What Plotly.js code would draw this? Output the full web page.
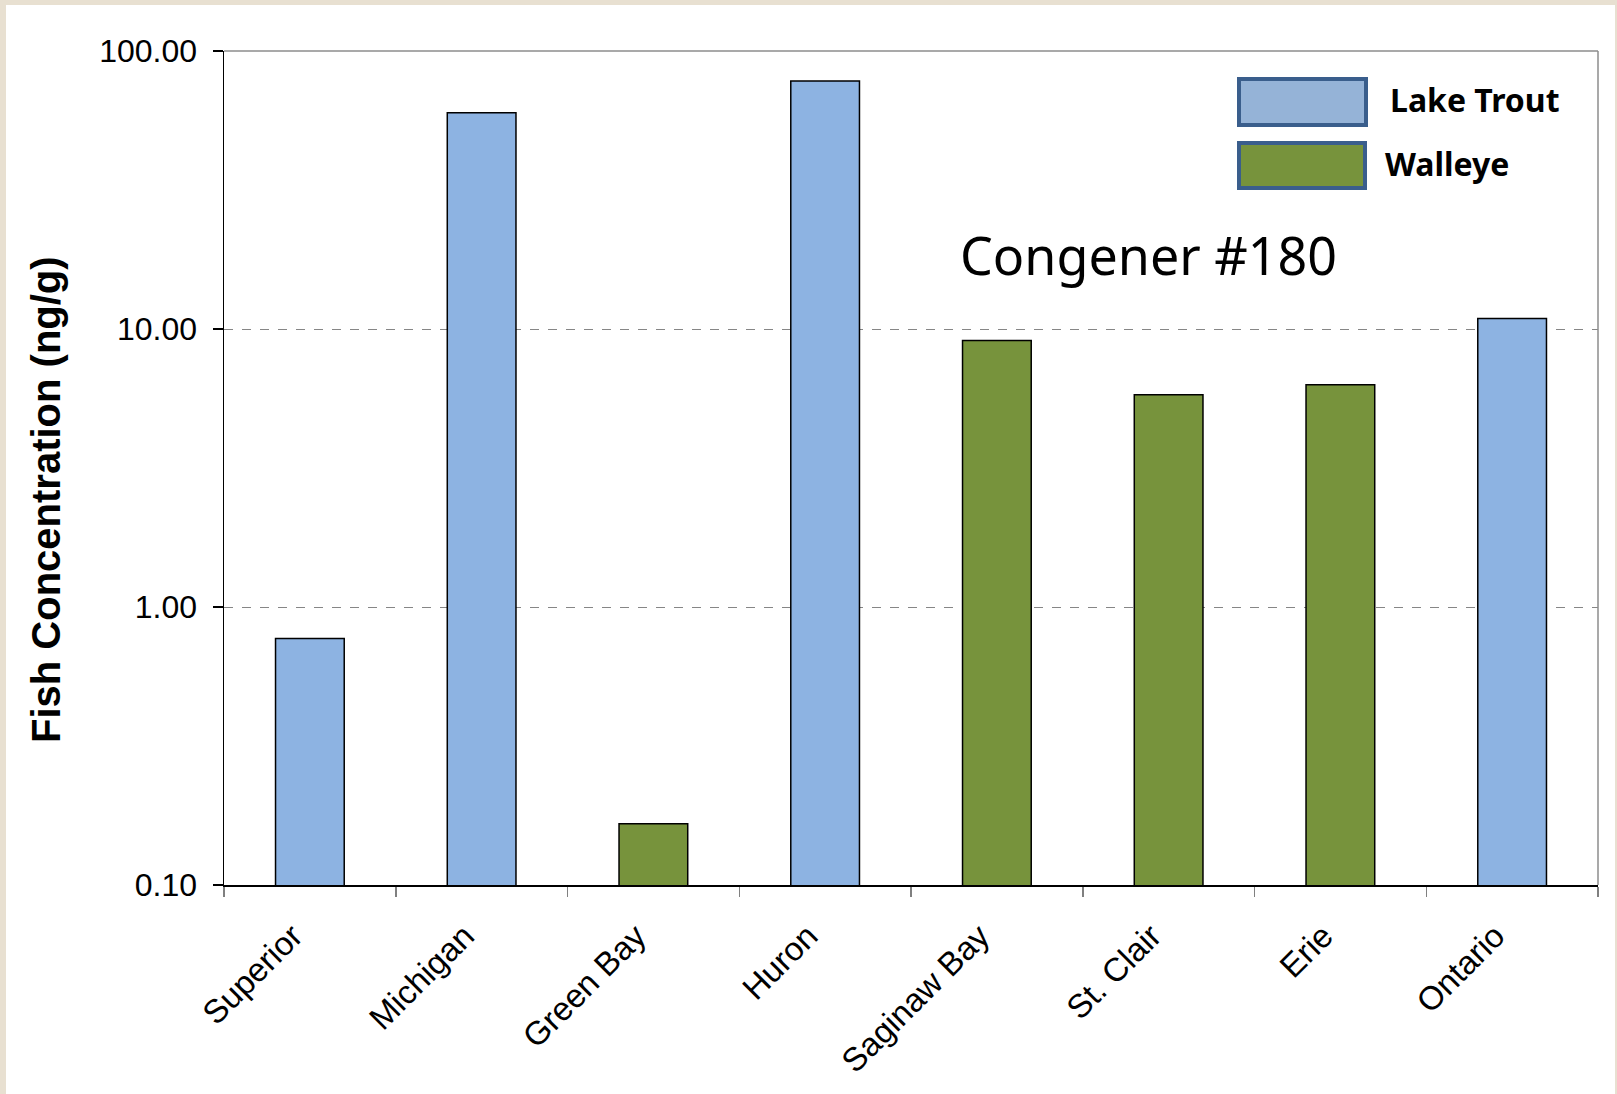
<!DOCTYPE html>
<html>
<head>
<meta charset="utf-8">
<script src="https://cdn.plot.ly/plotly-3.0.1.min.js"></script>
<style>
  html, body { margin: 0; padding: 0; background: #e8e0d1; width: 1617px; height: 1094px; overflow: hidden; }
  #chart { position: absolute; left: 6px; top: 5px; width: 1609px; height: 1089px; background: #ffffff; }
</style>
</head>
<body>
<div id="chart"></div>
<script>
// ---- Data ----
const categories = ["Superior", "Michigan", "Green Bay", "Huron", "Saginaw Bay", "St. Clair", "Erie", "Ontario"];
const lakeTroutLakes = ["Superior", "Michigan", "Huron", "Ontario"];
const lakeTroutValues = [0.77, 60, 78, 10.9];
const walleyeLakes = ["Green Bay", "Saginaw Bay", "St. Clair", "Erie"];
const walleyeValues = [0.166, 9.1, 5.8, 6.3];
const yTickVals = [0.1, 1, 10, 100];
const yTickText = ["0.10", "1.00", "10.00", "100.00"];
const seriesNames = ["Lake Trout", "Walleye"];
const chartLabel = "Congener #180";
const yTitle = "Fish Concentration (ng/g)";

// ---- Layout helpers (page pixel -> paper fraction) ----
const PL = 224, PR = 1598, PT = 51, PB = 885;
const fx = x => (x - PL) / (PR - PL);
const fy = y => (PB - y) / (PB - PT);

const blue = "#8db3e2", green = "#77933c";

const traces = [
  {
    type: "bar", name: seriesNames[0], x: lakeTroutLakes, y: lakeTroutValues,
    width: 0.4, marker: { color: blue, line: { color: "#000000", width: 1.5 } },
    showlegend: false, hoverinfo: "x+y"
  },
  {
    type: "bar", name: seriesNames[1], x: walleyeLakes, y: walleyeValues,
    width: 0.4, marker: { color: green, line: { color: "#000000", width: 1.5 } },
    showlegend: false, hoverinfo: "x+y"
  }
];

const arial = "Liberation Sans, Arial, sans-serif";
const calibri = "Noto Sans, Open Sans, sans-serif";

const layout = {
  width: 1609, height: 1089,
  paper_bgcolor: "#ffffff", plot_bgcolor: "#ffffff",
  margin: { l: PL - 6, r: 1609 - (PR - 6), t: PT - 5, b: 1089 - (PB - 5) },
  barmode: "overlay",
  showlegend: false,
  xaxis: {
    type: "category", categoryorder: "array", categoryarray: categories,
    range: [-0.5, 7.5],
    showline: true, linecolor: "#000000", linewidth: 1.5,
    ticks: "outside", tickson: "boundaries", ticklen: 10, tickcolor: "#808080", tickwidth: 1.5,
    tickangle: -45, tickfont: { family: arial, size: 33, color: "#000000" },
    ticklabelstandoff: 17, ticklabelshift: -17,
    showgrid: false, zeroline: false
  },
  yaxis: {
    type: "log", range: [-1, 2],
    tickvals: yTickVals, ticktext: yTickText,
    tickfont: { family: arial, size: 32, color: "#000000" },
    ticks: "outside", ticklen: 10, tickcolor: "#000000", tickwidth: 1.5,
    ticklabelstandoff: 9,
    showline: true, linecolor: "#000000", linewidth: 1.5,
    showgrid: true, gridcolor: "#868686", griddash: "dash", gridwidth: 1,
    zeroline: false
  },
  shapes: [
    { type: "line", xref: "paper", yref: "paper", x0: 0, x1: 1, y0: 1, y1: 1, line: { color: "#8c8c8c", width: 1.5 } },
    { type: "line", xref: "paper", yref: "paper", x0: 1, x1: 1, y0: 0, y1: 1, line: { color: "#8c8c8c", width: 1.5 } },
    { type: "rect", xref: "paper", yref: "paper", x0: fx(1239), x1: fx(1366), y0: fy(125), y1: fy(79),
      fillcolor: "#95b3d7", line: { color: "#3a5e8c", width: 4 } },
    { type: "rect", xref: "paper", yref: "paper", x0: fx(1239), x1: fx(1365), y0: fy(188), y1: fy(143),
      fillcolor: green, line: { color: "#3a5e8c", width: 4 } }
  ],
  annotations: [
    { xref: "paper", yref: "paper", x: fx(1388), y: fy(100), xanchor: "left", yanchor: "middle", showarrow: false,
      text: "<b>" + seriesNames[0] + "</b>", font: { family: calibri, size: 32, color: "#000000" } },
    { xref: "paper", yref: "paper", x: fx(1383), y: fy(163), xanchor: "left", yanchor: "middle", showarrow: false,
      text: "<b>" + seriesNames[1] + "</b>", font: { family: calibri, size: 32, color: "#000000" } },
    { xref: "paper", yref: "paper", x: fx(958), y: fy(254), xanchor: "left", yanchor: "middle", showarrow: false,
      text: chartLabel, font: { family: calibri, size: 52, color: "#000000" } },
    { xref: "paper", yref: "paper", x: fx(46), y: fy(500), xanchor: "center", yanchor: "middle", showarrow: false,
      textangle: -90, text: "<b>" + yTitle + "</b>", font: { family: arial, size: 40, color: "#000000" } }
  ]
};

Plotly.newPlot("chart", traces, layout, { displayModeBar: false, staticPlot: true });
</script>
</body>
</html>
